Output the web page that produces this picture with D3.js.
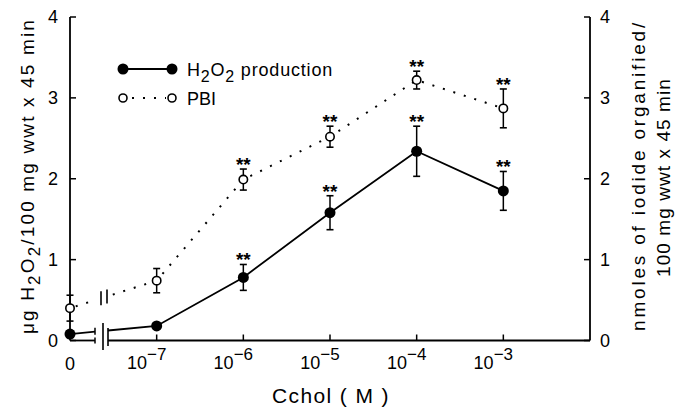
<!DOCTYPE html>
<html><head><meta charset="utf-8">
<script src="https://cdn.jsdelivr.net/npm/d3@7"></script>
<style>body{margin:0;background:#fff}svg{display:block}text{font-family:"Liberation Sans",Arial,sans-serif;fill:#000}</style>
</head><body><svg id="c" width="681" height="408"></svg>
<script>
// ---- data ----
const concLabels = ["0", "-7", "-6", "-5", "-4", "-3"];   // "0" = control, others are exponents of 10
const concLog    = [-8, -7, -6, -5, -4, -3];               // plotting position (log10 M; control drawn at -8)
const h2o2Mean   = [0.08, 0.18, 0.78, 1.58, 2.34, 1.85];
const h2o2Err    = [0.04, 0.00, 0.16, 0.21, 0.31, 0.24];
const pbiMean    = [0.40, 0.74, 1.99, 2.52, 3.22, 2.87];
const pbiErr     = [0.16, 0.15, 0.13, 0.13, 0.11, 0.24];
const signif     = [false, false, true, true, true, true];
const yTicks     = [0, 1, 2, 3, 4];

const svg = d3.select("#c");
const x = d3.scaleLinear().domain([-8, -2]).range([70, 590]);
const y = d3.scaleLinear().domain([0, 4]).range([340.5, 17]);
const yR = d3.scaleLinear().domain([0, 4]).range([340.5, 17]);
const brkA = x.invert(95), brkB = x.invert(108);

function stretch(sel, target){
  const node = sel.node();
  const n = node.textContent.length;
  const w = node.getComputedTextLength();
  sel.attr("letter-spacing", ((target - w) / n).toFixed(2));
}

const g = svg.append("g");
const axisW = 1.8;
g.append("line").attr("x1", x(-8)).attr("x2", x(-8)).attr("y1", y(4)).attr("y2", y(0)).attr("stroke","#000").attr("stroke-width",axisW);
g.append("line").attr("x1", x(-2)).attr("x2", x(-2)).attr("y1", yR(4)).attr("y2", yR(0)).attr("stroke","#000").attr("stroke-width",axisW);
g.append("line").attr("x1", x(-8)).attr("x2", x(brkA)).attr("y1", y(0)).attr("y2", y(0)).attr("stroke","#000").attr("stroke-width",axisW);
g.append("line").attr("x1", x(brkA)).attr("x2", x(brkA)).attr("y1", y(0)-3).attr("y2", y(0)+3).attr("stroke","#000").attr("stroke-width",1.5);
g.append("line").attr("x1", x(brkB)).attr("x2", x(-2)).attr("y1", y(0)).attr("y2", y(0)).attr("stroke","#000").attr("stroke-width",axisW);
g.append("line").attr("x1", x(brkA)+8).attr("x2", x(brkA)+8).attr("y1", 323).attr("y2", 350).attr("stroke","#000").attr("stroke-width",1.6);
g.append("line").attr("x1", x(brkB)).attr("x2", x(brkB)).attr("y1", 328).attr("y2", 346).attr("stroke","#000").attr("stroke-width",1.6);

g.selectAll(".tl").data(yTicks).join("line").attr("x1", x(-8)).attr("x2", x(-8)+6).attr("y1", d=>y(d)).attr("y2", d=>y(d)).attr("stroke","#000").attr("stroke-width",1.5);
g.selectAll(".tlab").data(yTicks).join("text").attr("x", 58).attr("y", d=>y(d)+6).attr("text-anchor","end").attr("font-size",18).text(d=>d);
g.selectAll(".tr").data(yTicks).join("line").attr("x1", x(-2)).attr("x2", x(-2)-6).attr("y1", d=>yR(d)).attr("y2", d=>yR(d)).attr("stroke","#000").attr("stroke-width",1.5);
g.selectAll(".trlab").data(yTicks).join("text").attr("x", 600).attr("y", d=>yR(d)+6).attr("text-anchor","start").attr("font-size",18).text(d=>d);

concLog.forEach((v,i)=>{
  if (i>0) g.append("line").attr("x1",x(v)).attr("x2",x(v)).attr("y1",y(0)).attr("y2",y(0)-6).attr("stroke","#000").attr("stroke-width",1.5);
  if (concLabels[i]==="0") {
    g.append("text").attr("x",x(v)).attr("y",370).attr("text-anchor","middle").attr("font-size",18).text("0");
  } else {
    const t = g.append("text").attr("x",x(v)-10).attr("y",369).attr("text-anchor","middle").attr("font-size",18);
    t.append("tspan").text("10");
    t.append("tspan").attr("dy",-9).attr("font-size",17).text("\u2212"+concLabels[i].replace("-",""));
  }
});

function segs(vals){
  const p0 = [x(concLog[0]), y(vals[0])], p1 = [x(concLog[1]), y(vals[1])];
  const interp = xv => p0[1] + (p1[1]-p0[1])*(xv-p0[0])/(p1[0]-p0[0]);
  const a = [p0, [x(brkA), interp(x(brkA))]];
  const b = [[x(brkB), interp(x(brkB))]].concat(vals.slice(1).map((v,i)=>[x(concLog[i+1]), y(v)]));
  return {a,b,interp};
}
const line = d3.line();
const hs = segs(h2o2Mean);
g.append("path").attr("d", line(hs.a)).attr("fill","none").attr("stroke","#000").attr("stroke-width",1.8);
g.append("line").attr("x1",x(brkA)).attr("x2",x(brkA)).attr("y1",hs.interp(x(brkA))-4).attr("y2",hs.interp(x(brkA))+3).attr("stroke","#000").attr("stroke-width",1.5);
g.append("path").attr("d", line(hs.b)).attr("fill","none").attr("stroke","#000").attr("stroke-width",1.8);

const ps = segs(pbiMean);
g.append("path").attr("d", line(ps.a)).attr("fill","none").attr("stroke","#000").attr("stroke-width",2).attr("stroke-dasharray","2,9").attr("stroke-dashoffset",-6);
g.append("path").attr("d", line(ps.b)).attr("fill","none").attr("stroke","#000").attr("stroke-width",2).attr("stroke-dasharray","2,9").attr("stroke-dashoffset",-5);
[x(brkA)+6, x(brkB)-1].forEach(bx=>{
  const cy = ps.interp(bx);
  g.append("line").attr("x1",bx).attr("x2",bx).attr("y1",cy-7).attr("y2",cy+7).attr("stroke","#000").attr("stroke-width",1.6);
});

function errBars(vals, errs){
  vals.forEach((v,i)=>{
    if (!errs[i]) return;
    const cx = x(concLog[i]);
    g.append("line").attr("x1",cx).attr("x2",cx).attr("y1",y(v+errs[i])).attr("y2",y(v-errs[i])).attr("stroke","#000").attr("stroke-width",1.5);
    [v+errs[i], v-errs[i]].forEach(e=>g.append("line").attr("x1",cx-3.5).attr("x2",cx+3.5).attr("y1",y(e)).attr("y2",y(e)).attr("stroke","#000").attr("stroke-width",1.6));
    if (signif[i]) g.append("text").attr("x",cx).attr("y",y(v+errs[i])+2).attr("text-anchor","middle").attr("font-size",19).attr("font-weight","bold").text("**");
  });
}
errBars(h2o2Mean, h2o2Err);
errBars(pbiMean, pbiErr);

g.selectAll(".hp").data(h2o2Mean).join("circle").attr("cx",(d,i)=>x(concLog[i])).attr("cy",d=>y(d)).attr("r",5.5).attr("fill","#000");
g.selectAll(".pp").data(pbiMean).join("circle").attr("cx",(d,i)=>x(concLog[i])).attr("cy",d=>y(d)).attr("r",4.2).attr("fill","#fff").attr("stroke","#000").attr("stroke-width",1.6);

// legend
const L = svg.append("g");
L.append("line").attr("x1",123).attr("x2",172).attr("y1",69).attr("y2",69).attr("stroke","#000").attr("stroke-width",1.8);
L.append("circle").attr("cx",123).attr("cy",69).attr("r",5.5);
L.append("circle").attr("cx",172).attr("cy",69).attr("r",5.5);
const lt = L.append("text").attr("x",187).attr("y",76).attr("font-size",18);
lt.append("tspan").text("H");
lt.append("tspan").attr("dy",6).attr("font-size",16).text("2");
lt.append("tspan").attr("dy",-6).text("O");
lt.append("tspan").attr("dy",6).attr("font-size",16).text("2");
lt.append("tspan").attr("dy",-6).text(" production");
stretch(lt, 146);
L.append("line").attr("x1",129).attr("x2",166).attr("y1",98).attr("y2",98).attr("stroke","#000").attr("stroke-width",2).attr("stroke-dasharray","2,9").attr("stroke-dashoffset",-3);
L.append("circle").attr("cx",123).attr("cy",98).attr("r",4).attr("fill","#fff").attr("stroke","#000").attr("stroke-width",1.6);
L.append("circle").attr("cx",172).attr("cy",98).attr("r",4).attr("fill","#fff").attr("stroke","#000").attr("stroke-width",1.6);
const pl = L.append("text").attr("x",187).attr("y",105).attr("font-size",18).text("PBI");
stretch(pl, 29);

// axis titles
const xt = svg.append("text").attr("x",272).attr("y",403).attr("text-anchor","start").attr("font-size",21).text("Cchol ( M )");
stretch(xt, 118);
const yl = svg.append("text").attr("transform","translate(34,334) rotate(-90)").attr("text-anchor","start").attr("font-size",19);
yl.append("tspan").text("\u03bcg H");
yl.append("tspan").attr("dy",6).attr("font-size",17).text("2");
yl.append("tspan").attr("dy",-6).text("O");
yl.append("tspan").attr("dy",6).attr("font-size",17).text("2");
yl.append("tspan").attr("dy",-6).text("/100 mg wwt x 45 min");
stretch(yl, 316);
const r1 = svg.append("text").attr("transform","translate(645,331) rotate(-90)").attr("text-anchor","start").attr("font-size",19).text("nmoles of iodide organified/");
stretch(r1, 311);
const r2 = svg.append("text").attr("transform","translate(670,277) rotate(-90)").attr("text-anchor","start").attr("font-size",19).text("100 mg wwt x 45 min");
stretch(r2, 199);
</script></body></html>
